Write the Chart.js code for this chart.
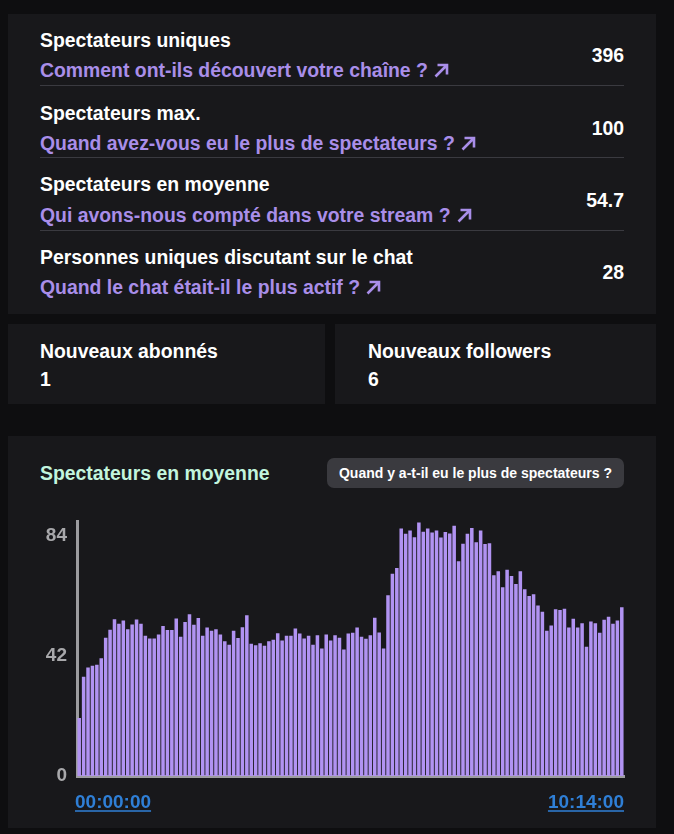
<!DOCTYPE html>
<html>
<head>
<meta charset="utf-8">
<script src="https://cdn.jsdelivr.net/npm/chart.js@4"></script>
<style>
html,body{margin:0;padding:0;background:#0e0e10;}
body{width:674px;height:834px;position:relative;overflow:hidden;font-family:"Liberation Sans",sans-serif;color:#fff;}
.panel{position:absolute;background:#18181b;}
.txt{position:absolute;white-space:nowrap;font-weight:700;font-size:19.4px;line-height:22px;}
.link{color:#a98ee9;}
.val{position:absolute;right:50px;font-weight:700;font-size:19.4px;line-height:22px;}
.sep{position:absolute;left:40px;width:584px;height:1px;background:#3a3a40;}
.link svg{vertical-align:-1px;margin-left:1px;}
#btn{position:absolute;left:327px;top:458px;width:297px;height:30px;line-height:30px;background:#3a3a3f;border-radius:7px;text-align:center;font-size:14px;font-weight:700;}
#title{color:#c2f5de;}
#wrap{position:absolute;left:30px;top:500px;width:610px;height:320px;}
</style>
</head>
<body>
<div class="panel" style="left:8px;top:14px;width:648px;height:300px"></div>
<div class="panel" style="left:8px;top:324px;width:317px;height:80px"></div>
<div class="panel" style="left:335px;top:324px;width:321px;height:80px"></div>
<div class="panel" style="left:8px;top:436px;width:648px;height:392px"></div>
<div id="rows"></div>
<div class="txt" style="left:40px;top:340px">Nouveaux abonnés</div>
<div class="txt" style="left:40px;top:368px">1</div>
<div class="txt" style="left:368px;top:340px">Nouveaux followers</div>
<div class="txt" style="left:368px;top:368px">6</div>
<div class="txt" id="title" style="left:40px;top:462px">Spectateurs en moyenne</div>
<div id="btn">Quand y a-t-il eu le plus de spectateurs ?</div>
<div id="wrap"><canvas id="myChart"></canvas></div>

<script>
//------------------------------------------------------------------
// rows of the top panel

var row_titles = ["Spectateurs uniques", "Spectateurs max.", "Spectateurs en moyenne", "Personnes uniques discutant sur le chat"];
var row_links = ["Comment ont-ils découvert votre chaîne ?", "Quand avez-vous eu le plus de spectateurs ?", "Qui avons-nous compté dans votre stream ?", "Quand le chat était-il le plus actif ?"];
var row_values = ["396", "100", "54.7", "28"];

// chart data
var tick_values = [0, 42, 84];
var time_start = "00:00:00";
var time_end = "10:14:00";
var viewers = [
    20.3, 34.7, 37.9, 38.5, 38.9, 41.2, 48.3, 51.1, 54.8, 53.2, 54.4, 51.3, 53, 54.7, 53.2, 49, 48.1, 48.1, 49.5, 52.4,
    51, 51, 55.1, 48.7, 53.8, 56.5, 52.9, 55.2, 49, 51.9, 50.8, 51.3, 49.5, 47.1, 45.9, 50.8, 48.2, 52, 56.2,
    46.2, 45.7, 46.4, 45.5, 47.1, 47.6, 49.9, 47.4, 49, 49, 51.6, 49.8, 48.1, 49, 45.9, 49.2, 44.6, 49.5, 47.4, 49.2,
    48.3, 44.2, 49.8, 50.1, 51.9, 48.7, 48, 49.2, 55.3, 50.2, 44.6, 63.2, 70.7, 72.7, 86.5, 84.7, 85.8, 83.5, 88.6, 85.4,
    86.5, 85.1, 85.8, 83.4, 85.3, 84.8, 87.5, 75.1, 81.2, 84.7, 86.7, 81.7, 85.8, 81.1, 81.4, 70.2, 71.6, 66, 72.1, 69.9,
    67.1, 71.6, 65.3, 62.9, 63.5, 59.6, 57.4, 50.8, 52.6, 58.3, 58, 58.5, 51.9, 55, 51.9, 53.4, 45.2, 54, 53.4, 50.1,
    54.6, 55.7, 53.2, 54.4, 59
];

//------------------------------------------------------------------

var arrow = '<svg width="15" height="15" viewBox="0 0 15 15"><path d="M1.5 13.5 L12.5 2.5 M3.5 2 H13 V11.5" fill="none" stroke="#a98ee9" stroke-width="2.6"/></svg>';
var rows = document.getElementById("rows");
var row_top = [29, 102, 173, 246];
var link_top = [59, 132, 204, 276];
var val_top = [44, 117, 189, 261];
var sep_top = [85, 157, 230];

for (let i = 0; i < row_titles.length; i++) {
    rows.innerHTML += '<div class="txt" style="left:40px;top:' + row_top[i] + 'px">' + row_titles[i] + '</div>';
    rows.innerHTML += '<div class="txt link" style="left:40px;top:' + link_top[i] + 'px">' + row_links[i] + ' ' + arrow + '</div>';
    rows.innerHTML += '<div class="val" style="top:' + val_top[i] + 'px">' + row_values[i] + '</div>';
    if (i < sep_top.length) rows.innerHTML += '<div class="sep" style="top:' + sep_top[i] + 'px"></div>';
}

//------------------------------------------------------------------

var labels = viewers.map(function (v, i) {
    if (i == 0) return time_start;
    if (i == viewers.length - 1) return time_end;
    return "";
});

// the two time labels are links in the original, they sit at the axis ends
const time_links_plugin = {
    id: "time_links",
    afterDraw(chart) {
        const c = chart.ctx;
        const x = chart.scales.x;
        c.save();
        c.font = "700 19px 'Liberation Sans'";
        c.fillStyle = "#2f7fd6";
        c.strokeStyle = "#2f7fd6";
        c.lineWidth = 1.5;
        c.textBaseline = "alphabetic";
        let y = x.top + 32;
        let left = x.left - 2;
        let w1 = c.measureText(time_start).width;
        let w2 = c.measureText(time_end).width;
        c.fillText(time_start, left, y);
        c.fillText(time_end, x.right - w2, y);
        c.beginPath();
        c.moveTo(left, y + 3); c.lineTo(left + w1, y + 3);
        c.moveTo(x.right - w2, y + 3); c.lineTo(x.right, y + 3);
        c.stroke();
        c.restore();
    }
};

const ctx = document.getElementById("myChart");

const kave_chart = new Chart(ctx, {
    type: "bar",
    data: {
        labels: labels,
        datasets: [{
            data: viewers,
            backgroundColor: "#b193f2",
            barPercentage: 0.8,
            categoryPercentage: 1
        }]
    },
    options: {
        responsive: false,
        animation: false,
        maintainAspectRatio: false,
        layout: { padding: { top: 0, right: 16, left: 0, bottom: 0 } },
        plugins: { legend: { display: false }, tooltip: { enabled: false } },
        scales: {
            x: {
                z: 1,
                grid: { display: false, drawTicks: false },
                border: { color: "#9c9c9f", width: 3 },
                afterFit(s) { s.height = 44; },
                ticks: { display: false }
            },
            y: {
                min: 0,
                max: 89,
                z: 1,
                grid: { display: false, drawTicks: false },
                border: { color: "#9c9c9f", width: 3 },
                afterFit(s) { s.width = 47; },
                afterBuildTicks(s) { s.ticks = tick_values.map(function (v) { return { value: v }; }); },
                ticks: {
                    padding: 10,
                    color: "#a8a8ab",
                    font: { family: "Liberation Sans", size: 19, weight: "700" }
                }
            }
        }
    },
    plugins: [time_links_plugin]
});
</script>
<script>
// canvas size for the non responsive chart
kave_chart.resize(610, 320);
</script>
</body>
</html>
